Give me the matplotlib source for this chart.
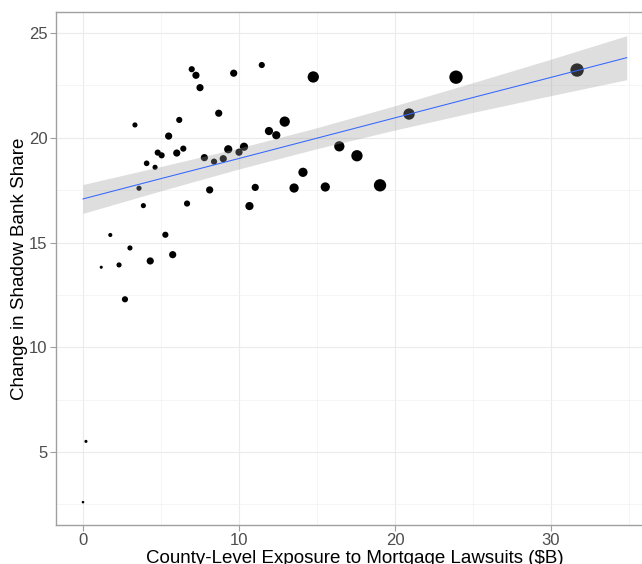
"""Shadow bank share change vs. county-level mortgage lawsuit exposure."""

import matplotlib

matplotlib.use("Agg")
import matplotlib.pyplot as plt
import numpy as np

plt.rcParams["font.family"] = ["Liberation Sans", "DejaVu Sans"]

# county points
exposure = [6.97, 7.24, 7.50, 9.66, 11.46, 3.33, 8.70, 6.17, 5.49, 4.79,
            5.04, 4.08, 4.62, 6.01, 6.43, 7.78, 8.40, 8.99, 9.31, 10.00,
            10.32, 3.59, 3.87, 6.67, 8.12, 11.04, 10.67, 1.75, 5.28, 3.01,
            5.75, 4.31, 2.31, 1.17, 2.69, 14.76, 20.90, 12.93, 11.92, 12.39,
            16.43, 17.56, 14.10, 13.53, 15.53, 19.04, 23.91, 31.67, 0.00, 0.19]
share_change = [23.27, 22.98, 22.39, 23.08, 23.47, 20.61, 21.17, 20.85, 20.08, 19.29,
                19.16, 18.78, 18.59, 19.27, 19.48, 19.05, 18.86, 19.00, 19.45, 19.31,
                19.57, 17.59, 16.76, 16.86, 17.51, 17.63, 16.74, 15.36, 15.37, 14.74,
                14.42, 14.12, 13.93, 13.82, 12.29, 22.90, 21.13, 20.77, 20.32, 20.12,
                19.59, 19.14, 18.35, 17.60, 17.65, 17.73, 22.89, 23.23, 2.61, 5.51]
# relative county weight (drives point size)
weight = [6, 7, 7, 7, 6, 5, 7, 6, 7, 6,
          6, 5.5, 5, 7, 6, 7, 6, 7, 8, 7,
          8, 5, 5, 6, 7, 7, 8, 4, 6, 5,
          7, 7, 5, 3, 6, 11, 11, 10, 8, 8,
          10, 11, 9, 9, 9, 12, 13, 13, 2.5, 3]

# linear fit and 95% band
fit_x = [0, 5, 10, 15, 20, 25, 30, 34.85]
fit_lo = [16.39, 17.47, 18.51, 19.48, 20.37, 21.21, 22.01, 22.77]
fit_hi = [17.77, 18.63, 19.51, 20.48, 21.53, 22.63, 23.75, 24.87]

fig = plt.figure(figsize=(6.42, 5.64), dpi=100)
ax = fig.add_axes([56 / 642, 39 / 564, 598 / 642, 513 / 564])

sizes = (np.asarray(weight) * 0.74) ** 2
ax.scatter(exposure, share_change, s=sizes, color="black", linewidths=0, zorder=3)

fit_mid = (np.asarray(fit_lo) + np.asarray(fit_hi)) / 2
ax.fill_between(fit_x, fit_lo, fit_hi, color="#999999", alpha=0.32, linewidth=0, zorder=4)
ax.plot(fit_x, fit_mid, color="#3366FF", linewidth=0.75, zorder=5)

ax.set_xlim(-1.73, 36.6)
ax.set_ylim(1.52, 26.0)
ax.set_xticks([0, 10, 20, 30])
ax.set_yticks([5, 10, 15, 20, 25])
ax.set_xticks([5, 15, 25, 35], minor=True)
ax.set_yticks([2.5, 7.5, 12.5, 17.5, 22.5], minor=True)
ax.grid(which="major", color="#EBEBEB", linewidth=0.8, zorder=0)
ax.grid(which="minor", color="#F2F2F2", linewidth=0.5, zorder=0)
ax.set_axisbelow(True)

for side in ax.spines.values():
    side.set_color("#A0A0A0")
    side.set_linewidth(1.0)
ax.tick_params(which="major", length=4, width=0.8, color="#A0A0A0",
               labelsize=12, labelcolor="#4D4D4D", pad=2)
ax.tick_params(which="minor", length=0)

ax.set_xlabel("County-Level Exposure to Mortgage Lawsuits ($B)", fontsize=13.5, labelpad=1)
ax.set_ylabel("Change in Shadow Bank Share", fontsize=13.5, labelpad=1)

fig.savefig("out.png", dpi=100)
